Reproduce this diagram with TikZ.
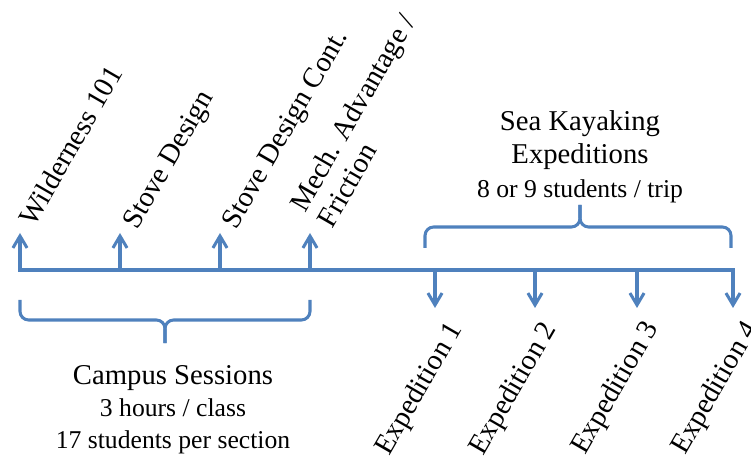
\documentclass[tikz,border=0pt]{standalone}
\usepackage{fontspec}
\setmainfont{Liberation Serif}
\usetikzlibrary{arrows.meta}
\definecolor{lineblue}{RGB}{79,129,189}
\tikzset{
  tl/.style={draw=lineblue, line width=1.4pt},
  tip/.style={-{Straight Barb[length=5.5pt,width=6.5pt]}},
  lbl/.style={inner sep=0pt, rotate=60, font=\fontsize{13.2}{14.5}\selectfont},
  brace/.style={tl, rounded corners=4pt},
  big/.style={inner sep=0pt, align=center, font=\fontsize{11.8}{13.8}\selectfont},
}
\newcommand{\grouptitle}[1]{{\fontsize{13.2}{15.2}\selectfont #1}}
\begin{document}
\begin{tikzpicture}[x=0.46pt,y=-0.46pt]
        \useasboundingbox (0,0) rectangle (751,459);
        % timeline points
        \coordinate (t0) at (20,270);
        \coordinate (t1) at (120,270);
        \coordinate (t2) at (220,270);
        \coordinate (t3) at (310,270);
        \coordinate (t4) at (435,270);
        \coordinate (t5) at (535,270);
        \coordinate (t6) at (637,270);
        \coordinate (t7) at (733,270);
        \coordinate (u0) at (20,233);
        \coordinate (u1) at (120,233);
        \coordinate (u2) at (220,233);
        \coordinate (u3) at (310,233);
        \coordinate (d4) at (435,308);
        \coordinate (d5) at (535,308);
        \coordinate (d6) at (637,308);
        \coordinate (d7) at (733,308);
        % session labels
        \node[lbl, anchor=base west] (s0) at (34,228) {Wilderness 101};
        \node[lbl, anchor=base west] (s1) at (137,231) {Stove Design};
        \node[lbl, anchor=base west] (s2) at (236,231) {Stove Design Cont.};
        \node[lbl, anchor=south west, align=left] (s3) at (333,230) {Mech. Advantage /\\Friction};
        % expedition labels
        \node[lbl, anchor=base west] (e1) at (389,457) {Expedition 1};
        \node[lbl, anchor=base west] (e2) at (483,457) {Expedition 2};
        \node[lbl, anchor=base west] (e3) at (585,456) {Expedition 3};
        \node[lbl, anchor=base west] (e4) at (685,456) {Expedition 4};
        % timeline
        \draw[tl, {Straight Barb[length=5.5pt,width=6.5pt]}-{Straight Barb[length=5.5pt,width=6.5pt]}] (u0) -- (t0) -- (t7) -- (d7);
        \draw[tl, tip] (t1) -- (u1);
        \draw[tl, tip] (t2) -- (u2);
        \draw[tl, tip] (t3) -- (u3);
        \draw[tl, tip] (t4) -- (d4);
        \draw[tl, tip] (t5) -- (d5);
        \draw[tl, tip] (t6) -- (d6);
        % braces
        \coordinate (kt) at (580,205);
        \coordinate (ct) at (165,343);
        \draw[brace] (425,248) |- (580,227) -- (kt);
        \draw[brace] (731,248) |- (580,227) -- (kt);
        \draw[brace] (20,300) |- (165,320) -- (ct);
        \draw[brace] (310,300) |- (165,320) -- (ct);
        % group texts
        \node[big, anchor=base] (kayak) at (580,198) {\grouptitle{Sea Kayaking}\\[1.5pt]\grouptitle{Expeditions}\\[2pt]8 or 9 students / trip};
        \node[big, anchor=base] (campus) at (173,448) {\grouptitle{Campus Sessions}\\[0.8pt]3 hours / class\\[0.8pt]17 students per section};
\end{tikzpicture}
\end{document}
